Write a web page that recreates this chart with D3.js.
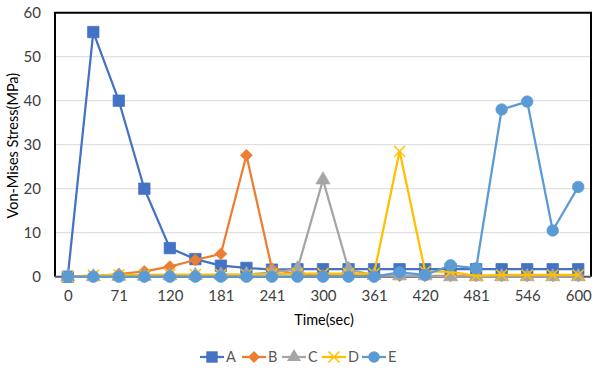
<!DOCTYPE html>
<html>
<head>
<meta charset="utf-8">
<script src="https://cdn.jsdelivr.net/npm/d3@7"></script>
<style>
  body { margin: 0; background: #fff; }
  text { font-family: Lato, "Open Sans", sans-serif; }
</style>
</head>
<body>
<div id="chart"></div>
<script>
// sample steps (21 points), labelled every other one
const steps = d3.range(21);
const timeLabels = ["0", "71", "120", "181", "241", "300", "361", "420", "481", "546", "600"];
const yTicks = [0, 10, 20, 30, 40, 50, 60];

const seriesA = [0, 55.6, 40, 20, 6.5, 4, 2.5, 2, 1.6, 1.7, 1.7, 1.7, 1.7, 1.7, 1.7, 1.7, 1.7, 1.7, 1.7, 1.7, 1.7];
const seriesB = [0, 0.1, 0.6, 1.2, 2.3, 3.8, 5.2, 27.6, 1.8, 0.5, 0.3, 0.3, 0.3, 0.2, 0.2, 0.2, 0.2, 0.2, 0.2, 0.2, 0.2];
const seriesC = [0, 0, 0.1, 0.1, 0.2, 0.3, 0.4, 0.5, 0.9, 1.8, 22, 1.7, 0.3, 0.2, 0.2, 0, 0, 0, 0, 0, 0];
const seriesD = [0, 0.3, 0.4, 0.4, 0.5, 0.5, 0.5, 0.5, 0.6, 0.7, 0.7, 0.7, 0.7, 28.5, 1.2, 1.1, 0.2, 0.4, 0.4, 0.4, 0.4];
const seriesE = [0, 0, 0, 0, 0, 0, 0, 0, 0, 0, 0, 0, 0, 1.0, 0.4, 2.6, 1.9, 38, 39.8, 10.5, 20.4];

const names = ["A", "B", "C", "D", "E"];
const colors = ["#4472C4", "#ED7D31", "#A5A5A5", "#FFC000", "#5B9BD5"];

const width = 595, height = 371;
const plotLeft = 55, plotRight = 591, plotTop = 12.7, plotBottom = 276.7;

const svg = d3.select("#chart").append("svg")
  .attr("width", width)
  .attr("height", height);

const x = d3.scalePoint().domain(steps).range([plotLeft, plotRight]).padding(0.5);
const y = d3.scaleLinear().domain([0, 60]).range([plotBottom, plotTop]);

// gridlines
svg.append("g")
  .selectAll("line")
  .data(yTicks.filter(d => d > 0 && d < 60))
  .join("line")
  .attr("x1", plotLeft).attr("x2", plotRight)
  .attr("y1", d => y(d)).attr("y2", d => y(d))
  .attr("stroke", "#d9d9d9")
  .attr("stroke-width", 1);

// y axis labels
const yAxis = svg.append("g")
  .attr("transform", `translate(${plotLeft},0)`)
  .call(d3.axisLeft(y).tickValues(yTicks).tickSize(0).tickPadding(14));
yAxis.select(".domain").remove();
yAxis.selectAll("text")
  .attr("font-size", 15)
  .attr("fill", "#404040")
  .style("font-family", "Lato, sans-serif");

// x axis labels (every other step)
const xAxis = svg.append("g")
  .attr("transform", `translate(0,${plotBottom})`)
  .call(d3.axisBottom(x)
    .tickValues(steps.filter(d => d % 2 === 0))
    .tickFormat(d => timeLabels[d / 2])
    .tickSize(0).tickPadding(14));
xAxis.select(".domain").remove();
xAxis.selectAll("text")
  .attr("font-size", 15)
  .attr("fill", "#404040")
  .style("font-family", "Lato, sans-serif");

// plot frame
svg.append("path")
  .attr("d", `M${plotLeft},${plotBottom}V${plotTop}H${plotRight}V${plotBottom}`)
  .attr("fill", "none")
  .attr("stroke", "#000")
  .attr("stroke-width", 2);
svg.append("line")
  .attr("x1", plotLeft).attr("x2", plotRight)
  .attr("y1", plotBottom).attr("y2", plotBottom)
  .attr("stroke", "#595959")
  .attr("stroke-width", 2);

// axis titles
svg.append("text")
  .attr("transform", `translate(18,${(plotTop + plotBottom) / 2 + 1}) rotate(-90)`)
  .attr("text-anchor", "middle")
  .attr("font-size", 14.5)
  .attr("fill", "#000")
  .text("Von-Mises Stress(MPa)");

svg.append("text")
  .attr("x", 324).attr("y", 325)
  .attr("text-anchor", "middle")
  .attr("font-size", 14.5)
  .attr("fill", "#000")
  .text("Time(sec)");

const symbolTypes = [
  d3.symbolSquare,
  d3.symbolDiamond2 || d3.symbolDiamond,
  d3.symbolTriangle,
  d3.symbolTimes || d3.symbolX || d3.symbolCross,
  d3.symbolCircle
];
const symbolSizes = [130, 90, 85, 80, 105];

function marker(i) {
  return d3.symbol().type(symbolTypes[i]).size(symbolSizes[i])();
}

const allSeries = [seriesA, seriesB, seriesC, seriesD, seriesE];

const line = d3.line()
  .x((d, i) => x(steps[i]))
  .y(d => y(d));

allSeries.forEach((values, i) => {
  const g = svg.append("g").attr("class", "series-" + names[i]);

  g.append("path")
    .datum(values)
    .attr("d", line)
    .attr("fill", "none")
    .attr("stroke", colors[i])
    .attr("stroke-width", 2.25)
    .attr("stroke-linejoin", "round");

  const pts = g.selectAll("path.pt")
    .data(values)
    .join("path")
    .attr("class", "pt")
    .attr("transform", (d, j) => `translate(${x(steps[j])},${y(d)})`)
    .attr("d", marker(i));

  if (i === 3) {
    pts.attr("fill", "none").attr("stroke", colors[i]).attr("stroke-width", 1.5);
  } else {
    pts.attr("fill", colors[i]).attr("stroke", colors[i]).attr("stroke-width", 0.75);
  }
});

// legend
const legendX = [200, 242, 282, 322, 362];
const legend = svg.append("g").attr("transform", "translate(0,357)");
names.forEach((name, i) => {
  const item = legend.append("g").attr("transform", `translate(${legendX[i]},0)`);
  item.append("line")
    .attr("x1", 0).attr("x2", 24)
    .attr("stroke", colors[i])
    .attr("stroke-width", 2.25);
  const m = item.append("path")
    .attr("transform", "translate(12,0)")
    .attr("d", marker(i));
  if (i === 3) {
    m.attr("fill", "none").attr("stroke", colors[i]).attr("stroke-width", 1.5);
  } else {
    m.attr("fill", colors[i]);
  }
  item.append("text")
    .attr("x", 26)
    .attr("dy", "0.35em")
    .attr("font-size", 14.5)
    .attr("fill", "#595959")
    .text(name);
});
</script>
</body>
</html>
